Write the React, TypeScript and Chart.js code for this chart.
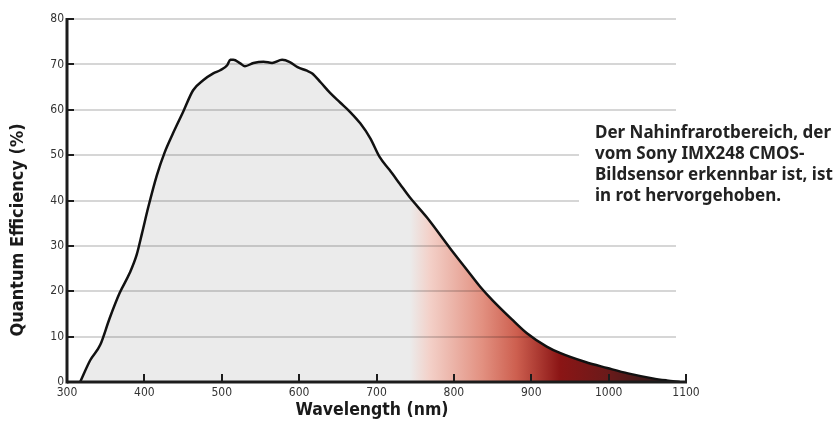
import { useEffect, useRef } from "react";
import { Chart, registerables } from "chart.js";
Chart.register(...registerables);

const wavelengths = [317, 330, 343, 355, 368, 381, 390, 397, 405, 416, 426, 437, 450, 463, 476, 489, 498, 507, 511, 515, 524, 530, 541, 554, 565, 578, 588, 598, 610, 617, 628, 640, 653, 666, 679, 692, 704, 717, 730, 743, 765, 795, 817, 834, 850, 875, 894, 920, 937, 970, 998, 1025, 1057, 1075, 1092];
const efficiency = [0, 4.8, 8.2, 14, 19.6, 24, 28, 32.8, 38.5, 45.5, 50.5, 54.8, 59.5, 64.3, 66.5, 68, 68.7, 69.8, 71, 71, 70.2, 69.6, 70.3, 70.6, 70.3, 71, 70.5, 69.4, 68.6, 68, 66, 63.7, 61.6, 59.5, 57, 53.7, 49.6, 46.7, 43.7, 40.7, 36.3, 29.5, 24.7, 21, 18, 13.8, 10.8, 7.8, 6.4, 4.4, 3.1, 1.9, 0.8, 0.35, 0];
const xTickValues = [300, 400, 500, 600, 700, 800, 900, 1000, 1100];
const yTickValues = [0, 10, 20, 30, 40, 50, 60, 70, 80];
const xTitle = "Wavelength (nm)";
const yTitle = "Quantum Efficiency (%)";
const noteLines = [
  "Der Nahinfrarotbereich, der",
  "vom Sony IMX248 CMOS-",
  "Bildsensor erkennbar ist, ist",
  "in rot hervorgehoben.",
];
// gradient stops: [wavelength, colour]
const nirStops: [number, string][] = [
  [743, "#ebebeb"],
  [769, "#f3d0c8"],
  [837, "#e29080"],
  [881, "#cd5f4f"],
  [937, "#8b1515"],
  [998, "#6b1a1a"],
  [1057, "#3a1a1a"],
];

const condensed = "'DejaVu Sans Condensed', 'Liberation Sans Narrow', sans-serif";
const tickFont = { family: condensed, size: 12 };

export default function App() {
  const ref = useRef<HTMLCanvasElement | null>(null);
  useEffect(() => {
    document.body.style.margin = "0";
    const canvas = ref.current!;
    const points = wavelengths.map((w, i) => ({ x: w, y: efficiency[i] }));

    const overlay = {
      id: "overlay",
      beforeDatasetDraw(chart: any) {
        const { ctx, chartArea: ca, scales } = chart;
        const ys = scales.y;
        ctx.save();
        ctx.strokeStyle = "rgba(0,0,0,0.16)";
        ctx.lineWidth = 2;
        yTickValues.forEach((v) => {
          if (v === 0) return;
          const y = Math.round(ys.getPixelForValue(v));
          const end = v === 40 || v === 50 ? ca.right - 107 : ca.right - 10;
          ctx.beginPath();
          ctx.moveTo(ca.left, y);
          ctx.lineTo(end, y);
          ctx.stroke();
        });
        ctx.restore();
      },
      afterDatasetsDraw(chart: any) {
        const { ctx, chartArea: ca, scales } = chart;
        const xs = scales.x;
        const ys = scales.y;
        ctx.save();
        ctx.strokeStyle = "#1c1c1c";
        ctx.lineWidth = 3;
        ctx.lineCap = "butt";
        // y axis
        ctx.beginPath();
        ctx.moveTo(ca.left, ys.getPixelForValue(80) - 1);
        ctx.lineTo(ca.left, ca.bottom + 1.5);
        ctx.stroke();
        // x axis
        ctx.beginPath();
        ctx.moveTo(ca.left, ca.bottom);
        ctx.lineTo(ca.right + 1, ca.bottom);
        ctx.stroke();
        // y ticks
        ctx.lineWidth = 2;
        yTickValues.forEach((v) => {
          if (v === 0) return;
          const y = Math.round(ys.getPixelForValue(v));
          ctx.beginPath();
          ctx.moveTo(ca.left, y);
          ctx.lineTo(ca.left + 7, y);
          ctx.stroke();
        });
        // x ticks
        xTickValues.forEach((v) => {
          if (v === 300) return;
          const x = Math.round(xs.getPixelForValue(v));
          ctx.beginPath();
          ctx.moveTo(x, ca.bottom);
          ctx.lineTo(x, ca.bottom - 8);
          ctx.stroke();
        });
        // titles
        ctx.fillStyle = "#1a1a1a";
        ctx.textAlign = "center";
        ctx.textBaseline = "middle";
        ctx.font = `bold 17.5px ${condensed}`;
        ctx.fillText(xTitle, 372, 410);
        ctx.save();
        ctx.translate(18, 230);
        ctx.rotate(-Math.PI / 2);
        ctx.font = `bold 18px ${condensed}`;
        ctx.fillText(yTitle, 0, 0);
        ctx.restore();
        // note
        ctx.fillStyle = "#222";
        ctx.font = "bold 17px 'Noto Sans', 'Open Sans', sans-serif";
        ctx.textAlign = "left";
        noteLines.forEach((t, i) => ctx.fillText(t, 595, 133 + i * 21));
        ctx.restore();
      },
    };

    const chart = new Chart(canvas, {
      type: "line",
      data: {
        datasets: [
          {
            data: points,
            borderColor: "#111",
            borderWidth: 2.5,
            pointRadius: 0,
            cubicInterpolationMode: "monotone",
            fill: "origin",
            backgroundColor: (c: any) => {
              const ch = c.chart;
              if (!ch.chartArea) return "#ebebeb";
              const xs = ch.scales.x;
              const x0 = xs.getPixelForValue(nirStops[0][0]);
              const x1 = xs.getPixelForValue(nirStops[nirStops.length - 1][0]);
              const g = ch.ctx.createLinearGradient(x0, 0, x1, 0);
              nirStops.forEach(([w, col]) => {
                g.addColorStop((xs.getPixelForValue(w) - x0) / (x1 - x0), col);
              });
              return g;
            },
          },
        ],
      },
      options: {
        animation: false,
        responsive: false,
        layout: { padding: { top: 19, right: 152, left: 0, bottom: 0 } },
        plugins: { legend: { display: false }, tooltip: { enabled: false } },
        scales: {
          x: {
            type: "linear",
            min: 300,
            max: 1100,
            afterFit: (s: any) => { s.height = 41; },
            afterBuildTicks: (s: any) => { s.ticks = xTickValues.map((v) => ({ value: v })); },
            grid: { display: false, drawTicks: false },
            border: { display: false },
            ticks: { color: "#333", font: tickFont, padding: 4, maxRotation: 0, autoSkip: false, callback: (v: any) => String(v) },
          },
          y: {
            min: 0,
            max: 80,
            afterFit: (s: any) => { s.width = 67; },
            afterBuildTicks: (s: any) => { s.ticks = yTickValues.map((v) => ({ value: v })); },
            grid: { display: false, drawTicks: false },
            border: { display: false },
            ticks: { color: "#333", font: tickFont, padding: 3, callback: (v: any) => String(v) },
          },
        },
      },
      plugins: [overlay],
    });
    return () => chart.destroy();
  }, []);
  return (
    <div style={{ width: 838, height: 423, background: "#fff" }}>
      <canvas ref={ref} width={838} height={423} />
    </div>
  );
}
